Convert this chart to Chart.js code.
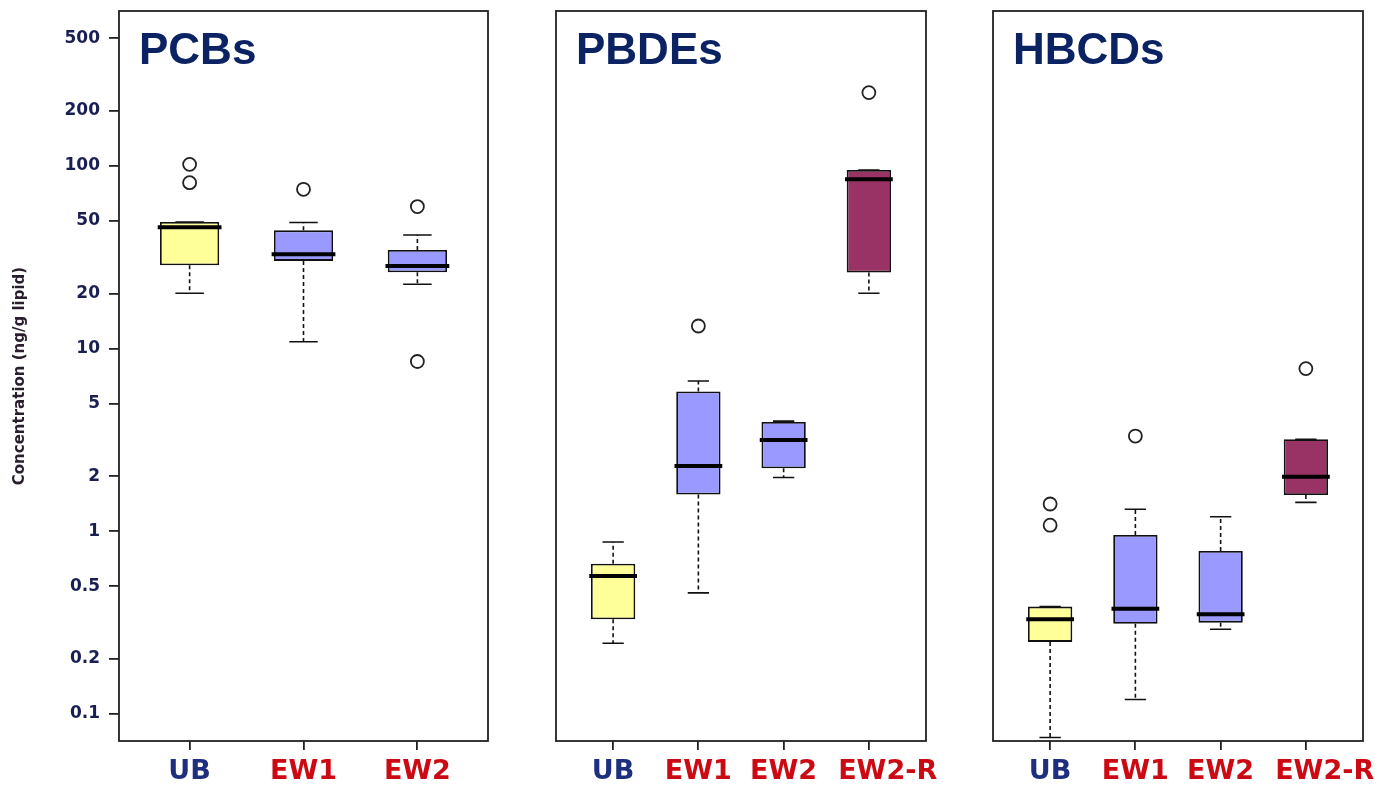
<!DOCTYPE html>
<html>
<head>
<meta charset="utf-8">
<script src="https://cdn.jsdelivr.net/npm/chart.js@4.4.1/dist/chart.umd.min.js"></script>
<style>
    body { margin: 0; background: #fff; width: 1385px; height: 787px; overflow: hidden; position: relative; }
    .panel { position: absolute; top: 0; height: 787px; }
</style>
</head>
<body>
<div class="panel" style="left:0;width:500px"><canvas id="pcb"></canvas></div>
<div class="panel" style="left:540px;width:400px"><canvas id="pbde"></canvas></div>
<div class="panel" style="left:977px;width:400px"><canvas id="hbcd"></canvas></div>
<script>
// y axis (log)
const yTicks = [0.1, 0.2, 0.5, 1, 2, 5, 10, 20, 50, 100, 200, 500];
const yMin = 0.0711;
const yMax = 705;

// PCBs
const pcbLabels = ['UB', 'EW1', 'EW2'];
const pcbLow = [20.1, 10.9, 22.5];
const pcbQ1 = [28.6, 30.2, 26.2];
const pcbMedian = [46.1, 32.8, 28.3];
const pcbQ3 = [49.3, 44.4, 34.7];
const pcbHigh = [49.3, 49.0, 41.9];
const pcbOutliers = [[102, 81], [74.5], [59.9, 8.5]];

// PBDEs
const pbdeLabels = ['UB', 'EW1', 'EW2', 'EW2-R'];
const pbdeLow = [0.244, 0.46, 1.97, 20.1];
const pbdeQ1 = [0.33, 1.59, 2.21, 26.1];
const pbdeMedian = [0.569, 2.28, 3.16, 84.5];
const pbdeQ3 = [0.665, 5.82, 3.97, 95];
const pbdeHigh = [0.874, 6.65, 4.01, 95];
const pbdeOutliers = [[], [13.3], [], [252]];

// HBCDs
const hbcdLabels = ['UB', 'EW1', 'EW2', 'EW2-R'];
const hbcdLow = [0.0743, 0.12, 0.291, 1.44];
const hbcdQ1 = [0.248, 0.312, 0.316, 1.58];
const hbcdMedian = [0.33, 0.377, 0.351, 1.99];
const hbcdQ3 = [0.387, 0.955, 0.78, 3.19];
const hbcdHigh = [0.387, 1.32, 1.2, 3.19];
const hbcdOutliers = [[1.41, 1.08], [3.32], [], [7.77]];

const boxColors = ['#FFFF99', '#9999FF', '#9999FF', '#993366'];

// whiskers, caps, medians, frame and panel title
const boxPlugin = {
    id: 'boxes',
    afterDatasetsDraw(chart, args, opts) {
        const { ctx, chartArea: a, scales: { x, y } } = chart;
        ctx.save();
        opts.median.forEach((m, i) => {
            const cx = x.getPixelForValue(i + 1);
            const cap = x.getPixelForValue(i + 1.125) - cx;
            const half = x.getPixelForValue(i + 1.28) - cx;
            ctx.strokeStyle = '#111';
            ctx.lineWidth = 1.6;
            // dashed whiskers
            ctx.setLineDash([4, 3]);
            ctx.beginPath();
            if (opts.high[i] > opts.q3[i]) {
                ctx.moveTo(cx, y.getPixelForValue(opts.q3[i]));
                ctx.lineTo(cx, y.getPixelForValue(opts.high[i]));
            }
            if (opts.low[i] < opts.q1[i]) {
                ctx.moveTo(cx, y.getPixelForValue(opts.q1[i]));
                ctx.lineTo(cx, y.getPixelForValue(opts.low[i]));
            }
            ctx.stroke();
            // caps
            ctx.setLineDash([]);
            ctx.beginPath();
            [opts.high[i], opts.low[i]].forEach(v => {
                const py = y.getPixelForValue(v);
                ctx.moveTo(cx - cap, py);
                ctx.lineTo(cx + cap, py);
            });
            ctx.stroke();
            // median
            const my = y.getPixelForValue(m);
            ctx.lineWidth = 4;
            ctx.strokeStyle = '#000';
            ctx.beginPath();
            ctx.moveTo(cx - half, my);
            ctx.lineTo(cx + half, my);
            ctx.stroke();
        });
        // frame
        ctx.lineWidth = 1.8;
        ctx.strokeStyle = '#222';
        ctx.strokeRect(a.left, a.top, a.right - a.left, a.bottom - a.top);
        // title
        ctx.fillStyle = '#0B2263';
        ctx.font = 'bold 44px "Liberation Sans", Arial, sans-serif';
        ctx.textBaseline = 'alphabetic';
        ctx.fillText(opts.title, a.left + 20, a.top + 53);
        ctx.restore();
    }
};

function makeChart(id, title, labels, low, q1, median, q3, high, outliers, xMin, xMax, showY, padLeft, padRight) {
    const positions = labels.map((l, i) => i + 1);
    const pts = [];
    outliers.forEach((list, i) => list.forEach(v => pts.push({ x: i + 1, y: v })));

    return new Chart(document.getElementById(id), {
        type: 'bar',
        data: {
            datasets: [{
                data: positions.map((p, i) => ({ x: p, y: [q1[i], q3[i]] })),
                backgroundColor: labels.map((l, i) => boxColors[i]),
                borderColor: '#111',
                borderWidth: 1.8,
                borderSkipped: false,
                barPercentage: 0.52,
                categoryPercentage: 1
            }, {
                type: 'scatter',
                data: pts,
                pointStyle: 'circle',
                pointRadius: 6.5,
                backgroundColor: '#fff',
                borderColor: '#222',
                borderWidth: 1.8
            }]
        },
        options: {
            responsive: true,
            maintainAspectRatio: false,
            animation: false,
            layout: { padding: { top: 11, right: padRight, left: padLeft, bottom: 0 } },
            plugins: {
                legend: { display: false },
                tooltip: { enabled: false },
                boxes: { title, low, q1, median, q3, high }
            },
            scales: {
                x: {
                    type: 'linear',
                    min: xMin,
                    max: xMax,
                    offset: false,
                    afterBuildTicks: s => { s.ticks = positions.map(v => ({ value: v })); },
                    afterFit: s => { s.height = 46; s.paddingLeft = 0; s.paddingRight = 0; },
                    border: { display: false },
                    grid: { offset: false, drawOnChartArea: false, drawTicks: true, tickLength: 9, color: '#222', lineWidth: 1.8 },
                    ticks: {
                        autoSkip: false,
                        maxRotation: 0,
                        padding: 6,
                        font: { family: '"DejaVu Sans"', size: 27, weight: 'bold' },
                        color: c => c.index === 0 ? '#1E2F80' : '#CC0A14',
                        // long last label sits a little right of its tick
                        callback: (v, i) => (labels[i].length > 3 ? '    ' : '') + labels[i]
                    }
                },
                y: {
                    type: 'logarithmic',
                    min: yMin,
                    max: yMax,
                    display: showY,
                    afterBuildTicks: s => { s.ticks = yTicks.map(v => ({ value: v })); },
                    afterFit: s => { s.width = showY ? 119 : 0; s.paddingTop = 0; s.paddingBottom = 0; },
                    border: { display: false },
                    grid: { drawOnChartArea: false, drawTicks: true, tickLength: 10, color: '#222', lineWidth: 1.8 },
                    ticks: {
                        padding: 9,
                        font: { family: '"DejaVu Sans"', size: 17, weight: 'bold' },
                        color: '#1A1F52',
                        callback: v => String(v)
                    },
                    title: {
                        display: true,
                        text: 'Concentration (ng/g lipid)',
                        color: '#2A1E2E',
                        padding: { top: 11, bottom: 0 },
                        font: { family: '"DejaVu Sans"', size: 15, weight: 'bold' }
                    }
                }
            }
        },
        plugins: [boxPlugin]
    });
}

makeChart('pcb', 'PCBs', pcbLabels, pcbLow, pcbQ1, pcbMedian, pcbQ3, pcbHigh, pcbOutliers, 0.38, 3.62, true, 0, 12);
makeChart('pbde', 'PBDEs', pbdeLabels, pbdeLow, pbdeQ1, pbdeMedian, pbdeQ3, pbdeHigh, pbdeOutliers, 0.33, 4.67, false, 16, 14);
makeChart('hbcd', 'HBCDs', hbcdLabels, hbcdLow, hbcdQ1, hbcdMedian, hbcdQ3, hbcdHigh, hbcdOutliers, 0.33, 4.67, false, 16, 14);
</script>
</body>
</html>
